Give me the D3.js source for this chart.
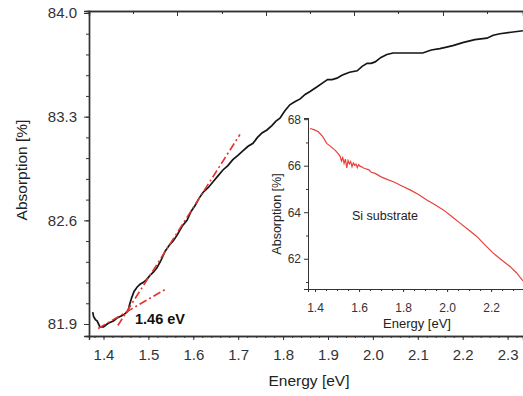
<!DOCTYPE html>
<html>
<head>
<meta charset="utf-8">
<script src="https://cdn.jsdelivr.net/npm/d3@7"></script>
<style>
  body { margin: 0; background: #fff; }
  svg { display: block; font-family: "Liberation Sans", Arial, sans-serif; }
  .axis path, .axis line { stroke: #333; }
  .axis text { fill: #333; }
</style>
</head>
<body>
<div id="chart"></div>
<script>
// main curve (film on Si)
const mainEnergy = [1.376, 1.378, 1.382, 1.386, 1.392, 1.400, 1.408, 1.414, 1.422, 1.430, 1.437, 1.444, 1.448, 1.452, 1.455, 1.458, 1.463, 1.468, 1.475, 1.482,
  1.488, 1.496, 1.504, 1.511, 1.519, 1.528, 1.537, 1.546, 1.555, 1.564, 1.575, 1.586, 1.595, 1.604, 1.613, 1.622, 1.633, 1.644, 1.655, 1.666,
  1.677, 1.688, 1.700, 1.711, 1.722, 1.733, 1.743, 1.753, 1.764, 1.775, 1.784, 1.793, 1.804, 1.815, 1.826, 1.838, 1.849, 1.860, 1.875, 1.889,
  1.899, 1.909, 1.920, 1.931, 1.948, 1.965, 1.976, 1.987, 1.996, 2.005, 2.018, 2.031, 2.045, 2.060, 2.085, 2.111, 2.130, 2.149, 2.164, 2.178,
  2.189, 2.200, 2.227, 2.254, 2.268, 2.283, 2.308, 2.334]
const mainAbs = [81.98, 81.95, 81.93, 81.92, 81.88, 81.88, 81.90, 81.91, 81.92, 81.94, 81.95, 81.96, 81.97, 81.98, 81.99, 82.03, 82.08, 82.12, 82.15, 82.17,
  82.18, 82.20, 82.23, 82.25, 82.28, 82.33, 82.39, 82.43, 82.46, 82.50, 82.56, 82.60, 82.66, 82.70, 82.75, 82.79, 82.82, 82.86, 82.90, 82.94,
  82.97, 83.01, 83.04, 83.07, 83.10, 83.12, 83.16, 83.19, 83.21, 83.24, 83.27, 83.29, 83.34, 83.38, 83.40, 83.42, 83.45, 83.47, 83.50, 83.53,
  83.55, 83.55, 83.56, 83.58, 83.60, 83.61, 83.64, 83.66, 83.66, 83.67, 83.70, 83.72, 83.73, 83.73, 83.73, 83.73, 83.75, 83.76, 83.77, 83.78,
  83.79, 83.80, 83.82, 83.83, 83.85, 83.86, 83.87, 83.88]

// the two dash-dot fit lines
const steepFitEnergy = [1.432, 1.704]
const steepFitAbs = [81.89, 83.18]
const baseFitEnergy = [1.388, 1.541]
const baseFitAbs = [81.87, 82.14]

// inset: bare Si substrate
const insetEnergy = [1.377, 1.395, 1.415, 1.435, 1.453, 1.472, 1.491, 1.505, 1.514, 1.520, 1.526, 1.532, 1.538, 1.544, 1.550, 1.556, 1.562, 1.568, 1.574, 1.580,
  1.586, 1.592, 1.598, 1.604, 1.612, 1.620, 1.628, 1.635, 1.645, 1.655, 1.673, 1.700, 1.730, 1.756, 1.790, 1.832, 1.870, 1.908, 1.945, 1.983,
  2.020, 2.059, 2.097, 2.135, 2.172, 2.210, 2.248, 2.286, 2.315, 2.345]
const insetAbs = [67.60, 67.55, 67.46, 67.25, 66.96, 66.82, 66.67, 66.52, 66.40, 66.20, 66.35, 66.10, 66.28, 65.90, 66.22, 66.08, 66.18, 65.96, 66.12, 66.02,
  66.07, 65.92, 66.05, 65.98, 65.95, 65.90, 65.88, 65.85, 65.82, 65.72, 65.67, 65.52, 65.40, 65.31, 65.15, 64.96, 64.76, 64.53, 64.32, 64.10,
  63.83, 63.53, 63.25, 62.96, 62.60, 62.24, 61.95, 61.67, 61.40, 61.05]

// tick labels
const mainXTicks = [1.4, 1.5, 1.6, 1.7, 1.8, 1.9, 2.0, 2.1, 2.2, 2.3]
const mainYTicks = [81.9, 82.6, 83.3, 84.0]
const topMajorTicks = [1.5637, 1.7619, 1.9579, 2.1561]
const topMinorTicks = [1.4657, 1.6639, 1.8599, 2.0559, 2.2541]
const insetXTicks = [1.4, 1.6, 1.8, 2.0, 2.2]
const insetYTicks = [62, 64, 66, 68]

const width = 523
const height = 396
const svg = d3.select('#chart').append('svg')
    .attr('width', width)
    .attr('height', height)

const x = d3.scaleLinear().domain([1.3677, 2.3343]).range([89, 523])
const y = d3.scaleLinear().domain([81.819, 84.0135]).range([336, 11])

const line = d3.line().x(d => x(d[0])).y(d => y(d[1]))

// axes of main plot
const bottomMinor = d3.axisBottom(x).tickValues(d3.range(1.38, 2.335, 0.02)).tickSize(2).tickFormat('')
svg.append('g').attr('class', 'axis').attr('transform', 'translate(0,336)').call(bottomMinor)
const bottom = d3.axisBottom(x).tickValues(mainXTicks).tickSize(4).tickPadding(9).tickFormat(d3.format('.1f'))
svg.append('g').attr('class', 'axis').attr('transform', 'translate(0,336)').call(bottom)
    .style('font-size', '15px')

const leftMinor = d3.axisLeft(y).tickValues(d3.range(81.9, 84.01, 0.14)).tickSize(3).tickFormat('')
svg.append('g').attr('class', 'axis').attr('transform', 'translate(89,0)').call(leftMinor)
const left = d3.axisLeft(y).tickValues(mainYTicks).tickSize(5).tickPadding(7).tickFormat(d3.format('.1f'))
svg.append('g').attr('class', 'axis').attr('transform', 'translate(89,0)').call(left)
    .style('font-size', '15px')

const topMin = d3.axisBottom(x).tickValues(topMinorTicks).tickSize(3).tickFormat('')
svg.append('g').attr('class', 'axis').attr('transform', 'translate(0,11)').call(topMin)
const topMaj = d3.axisBottom(x).tickValues(topMajorTicks).tickSize(5).tickFormat('')
svg.append('g').attr('class', 'axis').attr('transform', 'translate(0,11)').call(topMaj)

svg.selectAll('.axis path').attr('stroke-width', 1.4)

svg.append('text')
    .text('Energy [eV]')
    .attr('x', 309).attr('y', 386)
    .attr('text-anchor', 'middle')
    .style('font-size', '15.5px').style('fill', '#222')

svg.append('text')
    .text('Absorption [%]')
    .attr('transform', 'translate(27,170) rotate(-90)')
    .attr('text-anchor', 'middle')
    .style('font-size', '15.5px').style('fill', '#222')

// curve and fits
svg.append('path')
    .datum(d3.zip(mainEnergy, mainAbs))
    .attr('d', line)
    .attr('fill', 'none')
    .attr('stroke', '#151515')
    .attr('stroke-width', 1.7)

const fits = [d3.zip(steepFitEnergy, steepFitAbs), d3.zip(baseFitEnergy, baseFitAbs)]
svg.selectAll('.fit').data(fits).enter().append('path')
    .attr('class', 'fit')
    .attr('d', line)
    .attr('fill', 'none')
    .attr('stroke', '#e3342f')
    .attr('stroke-width', 1.6)
    .attr('stroke-dasharray', '8,3,2,3')

svg.append('text')
    .text('1.46 eV')
    .attr('x', 135).attr('y', 324)
    .style('font-size', '14.5px').style('font-weight', 'bold').style('fill', '#111')

// inset
const ix = d3.scaleLinear().domain([1.368, 2.345]).range([308, 523])
const iy = d3.scaleLinear().domain([60.7, 68.05]).range([289, 118])
const iline = d3.line().x(d => ix(d[0])).y(d => iy(d[1]))

const inset = svg.append('g')

const ixMinor = d3.axisBottom(ix).tickValues(d3.range(1.4, 2.345, 0.05)).tickSize(2).tickFormat('')
inset.append('g').attr('class', 'axis').attr('transform', 'translate(0,289)').call(ixMinor)
const ixAxis = d3.axisBottom(ix).tickValues(insetXTicks).tickSize(3).tickPadding(11).tickFormat(d3.format('.1f'))
inset.append('g').attr('class', 'axis').attr('transform', 'translate(0,289)').call(ixAxis)
    .style('font-size', '12px')

const iyMinor = d3.axisLeft(iy).tickValues([61, 63, 65, 67]).tickSize(2).tickFormat('')
inset.append('g').attr('class', 'axis').attr('transform', 'translate(308,0)').call(iyMinor)
const iyAxis = d3.axisLeft(iy).tickValues(insetYTicks).tickSize(4).tickPadding(3)
inset.append('g').attr('class', 'axis').attr('transform', 'translate(308,0)').call(iyAxis)
    .style('font-size', '12px')

inset.append('path')
    .datum(d3.zip(insetEnergy, insetAbs))
    .attr('d', iline)
    .attr('fill', 'none')
    .attr('stroke', '#e8403a')
    .attr('stroke-width', 1.2)

inset.append('text')
    .text('Si substrate')
    .attr('x', 352).attr('y', 220)
    .style('font-size', '12.5px').style('fill', '#222')

inset.append('text')
    .text('Energy [eV]')
    .attr('x', 417).attr('y', 328)
    .attr('text-anchor', 'middle')
    .style('font-size', '13px').style('fill', '#222')

inset.append('text')
    .text('Absorption [%]')
    .attr('transform', 'translate(281,214) rotate(-90)')
    .attr('text-anchor', 'middle')
    .style('font-size', '12.5px').style('fill', '#222')
</script>
</body>
</html>
